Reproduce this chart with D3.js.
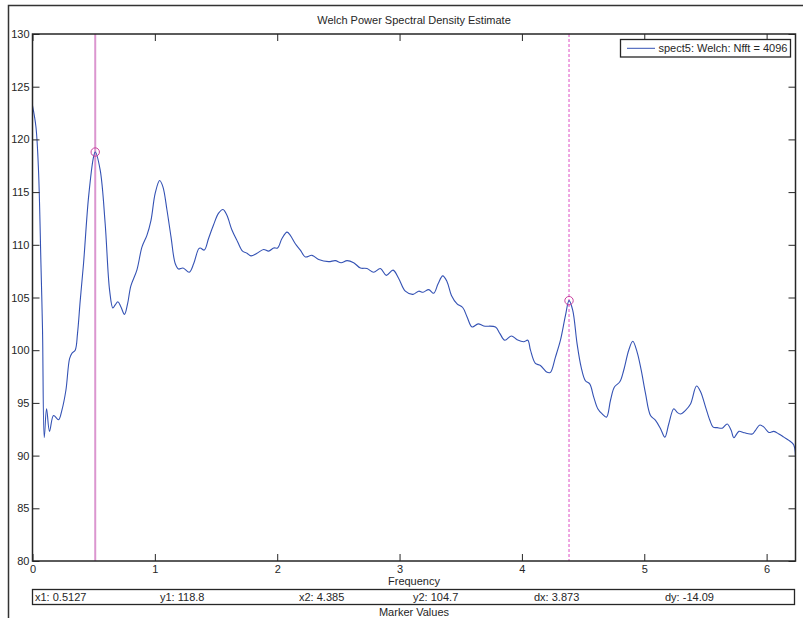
<!DOCTYPE html>
<html><head><meta charset="utf-8">
<script src="https://cdn.jsdelivr.net/npm/d3@7"></script>
<style>
html,body{margin:0;padding:0;background:#fff;}
svg{display:block;font-family:"Liberation Sans",Arial,sans-serif;}
</style></head>
<body>
<svg id="chart" width="803" height="618"></svg>
<script>
const titleText = "Welch Power Spectral Density Estimate";
const xLabel = "Frequency";
const legendLabel = "spect5: Welch: Nfft = 4096";
const xTicks = [0,1,2,3,4,5,6];
const yTicks = [80,85,90,95,100,105,110,115,120,125,130];
const xDomain = [0, 6.236];
const yDomain = [80, 130];

const freq = [0,0.028,0.049,0.069,0.082,0.096,0.115,0.139,0.172,0.213,0.24,0.273,0.303,0.322,0.349,0.368,0.39,0.417,0.458,0.499,0.5127,0.553,0.594,0.63,0.657,0.676,0.698,0.723,0.752,0.777,0.804,0.853,0.895,0.935,0.968,1.003,1.039,1.066,1.099,1.132,1.167,1.194,1.23,1.281,1.317,1.357,1.371,1.404,1.439,1.48,1.521,1.557,1.589,1.63,1.676,1.717,1.753,1.786,1.835,1.889,1.93,1.971,2.003,2.039,2.08,2.107,2.148,2.189,2.23,2.284,2.339,2.42,2.475,2.522,2.571,2.625,2.68,2.734,2.788,2.843,2.892,2.947,2.993,3.047,3.11,3.156,3.192,3.238,3.279,3.315,3.353,3.388,3.424,3.47,3.516,3.552,3.593,3.642,3.688,3.784,3.819,3.86,3.914,3.961,4.015,4.048,4.07,4.11,4.151,4.206,4.233,4.274,4.315,4.356,4.385,4.415,4.451,4.484,4.519,4.554,4.587,4.62,4.656,4.691,4.724,4.756,4.8,4.832,4.873,4.906,4.942,4.975,5.01,5.051,5.092,5.133,5.168,5.2,5.241,5.269,5.296,5.337,5.378,5.427,5.46,5.501,5.536,5.563,5.596,5.637,5.678,5.71,5.732,5.773,5.809,5.841,5.883,5.909,5.945,5.978,6.018,6.059,6.1,6.141,6.182,6.222,6.236];
const power = [123.2,121.2,117.1,108.2,101.9,91.7,94.45,92.3,93.8,93.4,94.3,96.2,99.2,99.7,100.0,101.6,104.7,108.2,114.5,118.35,118.8,117.1,112.0,105.7,104.0,104.3,104.6,104.1,103.4,104.4,106.1,107.6,109.8,110.9,112.3,114.9,116.1,115.5,113.3,110.75,108.2,107.7,107.8,107.4,108.2,109.6,109.7,109.5,110.6,111.9,113.0,113.35,112.8,111.4,110.3,109.4,109.2,108.95,109.2,109.55,109.4,109.7,109.7,110.6,111.2,110.9,110.1,109.5,108.85,109.0,108.6,108.4,108.5,108.3,108.5,108.3,107.8,107.75,107.4,107.75,107.1,107.6,106.8,105.6,105.3,105.6,105.5,105.75,105.4,106.3,107.05,106.5,105.2,104.4,104.05,103.15,102.2,102.5,102.3,102.2,101.6,100.95,101.35,101.0,100.8,100.95,100.0,98.75,98.55,97.9,97.9,99.35,100.95,103.3,104.7,103.8,100.6,98.4,97.1,96.8,95.55,94.45,93.95,93.65,95.25,96.5,97.0,98.1,100.0,100.85,99.8,98.1,95.9,93.8,93.35,92.55,91.75,93.0,94.45,94.1,93.95,94.3,94.9,96.6,96.05,94.6,93.35,92.7,92.65,92.6,93.0,92.4,91.7,92.3,92.2,92.1,92.05,92.4,92.9,92.7,92.2,92.3,92.05,91.75,91.45,91.0,88.6];

const markerX = [0.5127, 4.385];
const markerY = [118.8, 104.7];
const markerLabels = ["x1: 0.5127","y1: 118.8","x2: 4.385","y2: 104.7","dx: 3.873","dy: -14.09"];

const svg = d3.select("#chart");
const L = 32.5, R = 795.5, T = 34, B = 561;
const x = d3.scaleLinear().domain(xDomain).range([L, R]);
const y = d3.scaleLinear().domain(yDomain).range([B, T]);
const axisColor = "#262626";
const fontSize = 11;

// outer frame
svg.append("path").attr("d", `M8.5,618 L8.5,5.5 L803,5.5`).attr("fill","none").attr("stroke","#333").attr("stroke-width",1.5);

// title
svg.append("text").attr("x", (L+R)/2).attr("y", 24).attr("text-anchor","middle")
  .attr("font-size", fontSize).attr("fill", axisColor).text(titleText);

const clip = svg.append("defs").append("clipPath").attr("id","clip");
clip.append("rect").attr("x",L).attr("y",T).attr("width",R-L).attr("height",B-T);

// marker lines
svg.append("line").attr("x1", x(markerX[0])).attr("x2", x(markerX[0])).attr("y1", T).attr("y2", B)
  .attr("stroke", "#db96cf").attr("stroke-width", 2);
svg.append("line").attr("x1", x(markerX[1])).attr("x2", x(markerX[1])).attr("y1", T).attr("y2", B)
  .attr("stroke", "#de4ec4").attr("stroke-width", 1).attr("stroke-dasharray","3,2");

// curve
const pts = freq.map((f,i)=>[f, power[i]]);
const line = d3.line().x(d=>x(d[0])).y(d=>y(d[1])).curve(d3.curveCatmullRom.alpha(0.5));
svg.append("path").datum(pts).attr("d", line).attr("fill","none")
  .attr("stroke","#3452b4").attr("stroke-width",1.1).attr("clip-path","url(#clip)");

// marker circles
svg.selectAll("circle.mk").data(markerX).enter().append("circle")
  .attr("cx",(d)=>x(d)).attr("cy",(d,i)=>y(markerY[i])).attr("r",4.2)
  .attr("fill","none").attr("stroke","#c9409f").attr("stroke-width",1);

// axes
const tickLen = 7;
const axB = d3.axisBottom(x).tickValues(xTicks).tickSize(-tickLen).tickFormat(d3.format("d")).tickPadding(4);
const axT = d3.axisTop(x).tickValues(xTicks).tickSize(-tickLen).tickFormat("");
const axLft = d3.axisLeft(y).tickValues(yTicks).tickSize(-tickLen).tickFormat(d3.format("d")).tickPadding(3);
const axRt = d3.axisRight(y).tickValues(yTicks).tickSize(-tickLen).tickFormat("");
function style(g){
  g.select(".domain").remove();
  g.selectAll("line").attr("stroke", axisColor);
  g.selectAll("text").attr("fill", axisColor).attr("font-size", fontSize).attr("font-family",'"Liberation Sans",Arial,sans-serif');
}
svg.append("g").attr("transform",`translate(0,${B})`).call(axB).call(style);
svg.append("g").attr("transform",`translate(0,${T})`).call(axT).call(style);
svg.append("g").attr("transform",`translate(${L},0)`).call(axLft).call(style);
svg.append("g").attr("transform",`translate(${R},0)`).call(axRt).call(style);
svg.append("rect").attr("x",L).attr("y",T).attr("width",R-L).attr("height",B-T)
  .attr("fill","none").attr("stroke",axisColor).attr("stroke-width",1.5);

// x label
svg.append("text").attr("x",(L+R)/2).attr("y",585).attr("text-anchor","middle")
  .attr("font-size",fontSize).attr("fill",axisColor).text(xLabel);

// legend
const lg = svg.append("g");
lg.append("rect").attr("x",620.5).attr("y",39.5).attr("width",170).attr("height",17.5)
  .attr("fill","#fff").attr("stroke",axisColor).attr("stroke-width",1.3);
lg.append("line").attr("x1",627).attr("x2",655).attr("y1",48.3).attr("y2",48.3).attr("stroke","#3452b4").attr("stroke-width",1);
lg.append("text").attr("x",658.5).attr("y",52.3).attr("font-size",fontSize).attr("fill",axisColor).text(legendLabel);

// marker values box
svg.append("rect").attr("x",L).attr("y",589.5).attr("width",R-L-1).attr("height",15)
  .attr("fill","#fff").attr("stroke",axisColor).attr("stroke-width",1.3);
const cellX = [35, 160, 299, 413, 534, 665];
svg.selectAll("text.mv").data(markerLabels).enter().append("text")
  .attr("x",(d,i)=>cellX[i]).attr("y",601).attr("font-size",fontSize).attr("fill",axisColor).text(d=>d);
svg.append("text").attr("x",(L+R)/2).attr("y",615.5).attr("text-anchor","middle")
  .attr("font-size",fontSize).attr("fill",axisColor).text("Marker Values");
</script>
</body></html>
